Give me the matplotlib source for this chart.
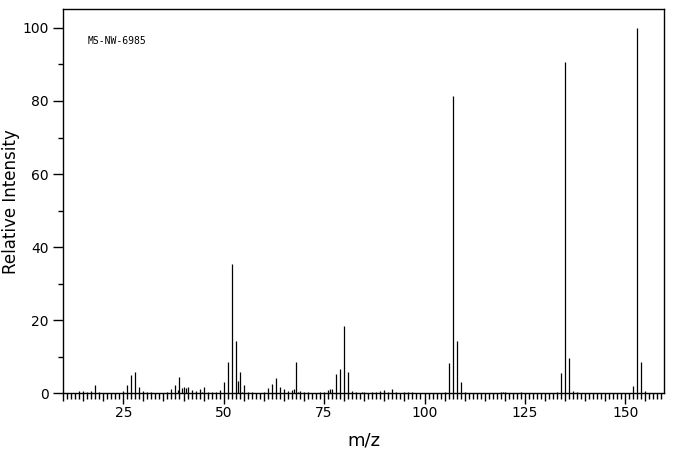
import matplotlib
matplotlib.use("Agg")
import matplotlib.pyplot as plt
from matplotlib.ticker import MultipleLocator, FuncFormatter

# m/z and relative intensity
mz = [14, 15, 16, 17, 18, 19, 20,
      25, 26, 27, 28, 29, 30, 31, 32,
      36, 37, 38, 38.7, 39, 39.7, 40, 40.7, 41, 42, 43, 44, 44.7, 45,
      46, 47, 48, 49, 50, 51, 52, 53, 53.6, 54, 54.6, 55, 56, 57,
      60, 61, 62, 63, 64, 65, 66, 67, 67.6, 68, 68.6, 69, 70, 71,
      74, 75, 76, 76.5, 77, 78, 79, 80, 81, 82, 83, 84.5, 85,
      87, 88, 89, 90, 91, 92, 93, 95, 96, 97,
      105, 106, 107, 108, 109, 110, 119, 119.5, 120, 124,
      133, 134, 135, 136, 137, 138, 152, 153, 154, 155]
intensity = [0.5, 0.5, 0.3, 0.6, 2.3, 0.3, 0.2,
             0.5, 2.2, 5.0, 5.8, 1.6, 0.5, 0.3, 0.3,
             0.3, 1.3, 2.2, 0.9, 4.5, 1.4, 1.6, 1.4, 1.6, 0.8, 0.5, 1.3, 0.3, 1.6,
             0.3, 0.3, 0.3, 0.8, 3.0, 8.5, 35.4, 14.3, 3.3, 5.8, 0.4, 2.3, 0.3, 0.3,
             0.3, 1.4, 2.5, 4.2, 1.7, 1.1, 0.6, 0.9, 1.3, 8.5, 0.3, 0.5, 0.4, 0.3,
             0.3, 0.3, 1.0, 1.1, 1.2, 5.3, 6.7, 18.4, 5.8, 0.5, 0.3, 0.3, 0.3,
             0.3, 0.4, 0.5, 0.8, 0.3, 1.1, 0.3, 0.3, 0.3, 0.3,
             0.3, 8.2, 81.4, 14.2, 3.0, 0.3, 0.3, 0.3, 0.3, 0.3,
             0.3, 5.5, 90.6, 9.6, 0.7, 0.3, 1.9, 100.0, 8.7, 0.7]

fig = plt.figure(figsize=(6.76, 4.55), dpi=100)
ax = fig.add_axes([0.0932, 0.1356, 0.8895, 0.844])

ax.vlines(mz, 0, intensity, colors="black", linewidth=0.9)

ax.set_xlim(10, 159.7)
ax.set_ylim(0, 105.1)

for s in ax.spines.values():
    s.set_linewidth(1.0)

ax.xaxis.set_major_locator(MultipleLocator(5))
ax.xaxis.set_minor_locator(MultipleLocator(1))
ax.xaxis.set_major_formatter(FuncFormatter(lambda v, p: "%d" % v if round(v) % 25 == 0 else ""))
ax.yaxis.set_major_locator(MultipleLocator(20))
ax.yaxis.set_minor_locator(MultipleLocator(10))

ax.tick_params(axis="x", which="major", direction="out", length=5.5, width=1.0, labelsize=10, pad=3.5)
ax.tick_params(axis="x", which="minor", direction="out", length=4, width=1.0)
ax.tick_params(axis="y", which="major", direction="out", length=7.2, width=1.0, labelsize=10, pad=3)
ax.tick_params(axis="y", which="minor", direction="out", length=3.6, width=1.0)

ax.set_xlabel("m/z", fontsize=13)
ax.xaxis.set_label_coords(0.5, -0.1)
ax.set_ylabel("Relative Intensity", fontsize=12)
ax.yaxis.set_label_coords(-0.071, 0.5)

ax.text(16.2, 96.4, "MS-NW-6985", fontsize=7, family="DejaVu Sans Mono", va="center", ha="left")

# longer ticks every 25
fig.canvas.draw()
for t in ax.xaxis.get_major_ticks():
    if round(t.get_loc()) % 25 == 0:
        t.tick1line.set_markersize(7.7)

fig.savefig("out.png", dpi=100)
